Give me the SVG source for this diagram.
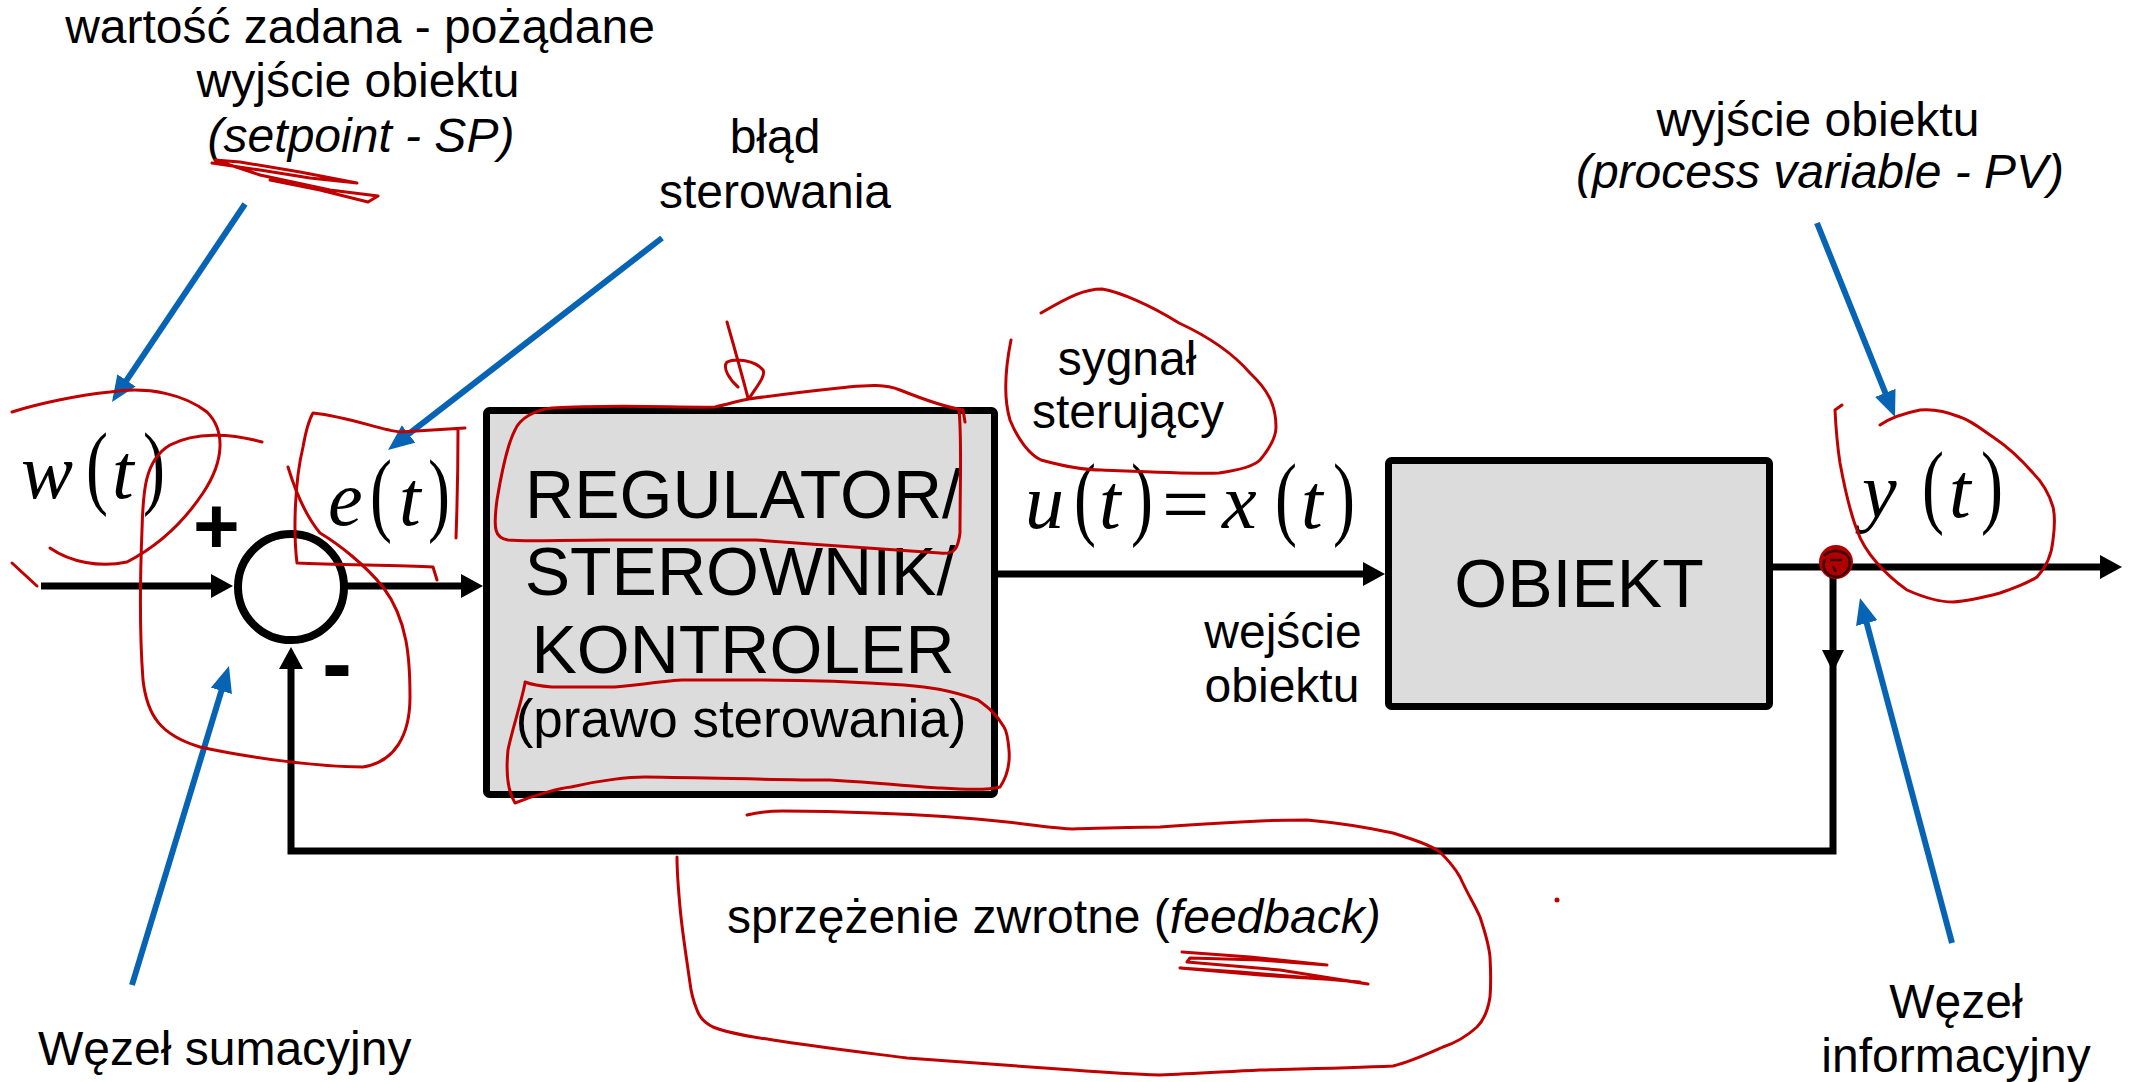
<svg xmlns="http://www.w3.org/2000/svg" width="2130" height="1082" viewBox="0 0 2130 1082">
<defs>
<style>
.t{font-family:"Liberation Sans",Arial,sans-serif;font-size:48px;fill:#000}
.c{text-anchor:middle}
.i{font-style:italic}
.big{font-family:"Liberation Sans",Arial,sans-serif;font-size:68px;fill:#000;text-anchor:middle}
.m{font-family:"Liberation Serif","Times New Roman",serif;font-style:italic;font-size:78px;fill:#000}
.p{font-family:"Liberation Serif","Times New Roman",serif;font-size:66px;fill:#000}
.box{fill:#dcdcdc;stroke:#000;stroke-width:7}
.wire{fill:none;stroke:#000;stroke-width:7}
.blue{fill:none;stroke:#0764b4;stroke-width:6}
.red{fill:none;stroke:#c00000;stroke-width:3;stroke-linejoin:round;stroke-linecap:round}
</style>
<marker id="ah" markerUnits="userSpaceOnUse" markerWidth="24" markerHeight="24" refX="10" refY="12" orient="auto"><path d="M0,0 L22,12 L0,24 z" fill="#000"/></marker>
<marker id="bh" markerUnits="userSpaceOnUse" markerWidth="28" markerHeight="24" refX="12" refY="11" orient="auto"><path d="M0,0 L26,11 L0,22 z" fill="#0764b4"/></marker>
</defs>
<rect width="2130" height="1082" fill="#fff"/>

<g id="connectors">
<line class="wire" x1="41" y1="586" x2="221" y2="586" marker-end="url(#ah)"/>
<line class="wire" x1="344" y1="586" x2="471" y2="586" marker-end="url(#ah)"/>
<line class="wire" x1="998" y1="574" x2="1373" y2="574" marker-end="url(#ah)"/>
<line class="wire" x1="1773" y1="567" x2="2110" y2="567" marker-end="url(#ah)"/>
<polyline class="wire" points="1833,567 1833,851 291,851 291,659" marker-end="url(#ah)"/>
<polygon points="1822,650 1844,650 1833,672" fill="#000"/>
</g>

<g id="sum-node">
<circle cx="291" cy="587" r="53" fill="#fff" stroke="#000" stroke-width="8"/>
<text x="193" y="553" style="font-family:'Liberation Sans',Arial,sans-serif;font-weight:bold;font-size:80px">+</text>
<text x="322" y="694" style="font-family:'Liberation Sans',Arial,sans-serif;font-weight:bold;font-size:90px">-</text>
</g>

<g id="info-node">
<circle cx="1833" cy="567" r="11" fill="#000"/>
</g>

<g id="regulator">
<rect class="box" x="486.5" y="410.5" width="508" height="384" rx="3"/>
<text class="big" x="743" y="518">REGULATOR/</text>
<text class="big" x="740" y="595">STEROWNIK/</text>
<text class="big" x="743" y="673">KONTROLER</text>
<text class="big" x="741" y="737" style="font-size:53px">(prawo sterowania)</text>
</g>

<g id="obiekt">
<rect class="box" x="1388.5" y="460.5" width="381" height="246" rx="3"/>
<text class="big" x="1579" y="607">OBIEKT</text>
</g>

<g id="math">
<text class="m" x="21" y="498">w</text>
<text class="p" transform="translate(86,497) scale(1,1.4)">(</text>
<text class="m" x="112" y="498">t</text>
<text class="p" transform="translate(143,497) scale(1,1.4)">)</text>

<text class="m" x="328" y="525">e</text>
<text class="p" transform="translate(370,524) scale(1,1.4)">(</text>
<text class="m" x="399" y="525">t</text>
<text class="p" transform="translate(428,524) scale(1,1.4)">)</text>

<text class="m" x="1025" y="528">u</text>
<text class="p" transform="translate(1074,528) scale(1,1.4)">(</text>
<text class="m" x="1099" y="528">t</text>
<text class="p" transform="translate(1131,528) scale(1,1.4)">)</text>
<text style="font-family:'Liberation Serif',serif;font-size:84px" x="1162" y="533">=</text>
<text class="m" x="1222" y="528">x</text>
<text class="p" transform="translate(1275,528) scale(1,1.4)">(</text>
<text class="m" x="1301" y="528">t</text>
<text class="p" transform="translate(1333,528) scale(1,1.4)">)</text>

<text class="m" x="1862" y="517">y</text>
<text class="p" transform="translate(1922,516) scale(1,1.4)">(</text>
<text class="m" x="1949" y="517">t</text>
<text class="p" transform="translate(1981,516) scale(1,1.4)">)</text>
</g>

<g id="labels">
<text class="t c" x="360" y="43">wartość zadana - pożądane</text>
<text class="t c" x="358" y="97">wyjście obiektu</text>
<text class="t c i" x="361" y="152">(setpoint - SP)</text>
<text class="t c" x="775" y="153">błąd</text>
<text class="t c" x="775" y="208">sterowania</text>
<text class="t c" x="1127" y="375">sygnał</text>
<text class="t c" x="1128" y="428">sterujący</text>
<text class="t c" x="1283" y="648">wejście</text>
<text class="t c" x="1282" y="702">obiektu</text>
<text class="t c" x="1818" y="136">wyjście obiektu</text>
<text class="t c i" x="1820" y="188">(process variable - PV)</text>
<text class="t" x="727" y="933">sprzężenie zwrotne (<tspan class="i">feedback)</tspan></text>
<text class="t" x="38" y="1065">Węzeł sumacyjny</text>
<text class="t c" x="1956" y="1018">Węzeł</text>
<text class="t c" x="1956" y="1072">informacyjny</text>
</g>

<g id="pointers">
<line class="blue" x1="245" y1="204" x2="119.8" y2="390.4" marker-end="url(#bh)"/>
<line class="blue" x1="662" y1="238" x2="399.1" y2="441.4" marker-end="url(#bh)"/>
<line class="blue" x1="132" y1="985" x2="224.9" y2="679.4" marker-end="url(#bh)"/>
<line class="blue" x1="1817" y1="223" x2="1889.8" y2="404" marker-end="url(#bh)"/>
<line class="blue" x1="1952" y1="943" x2="1863.6" y2="611.5" marker-end="url(#bh)"/>
</g>

<g id="annotations">
<polyline class="red" points="212,163 260,170 310,178 357,183 300,172 240,162 215,160 260,175 330,190 378,196 368,202 320,190 270,180"/>
<polyline class="red" points="1182,952 1250,957 1327,965 1260,960 1190,958 1187,962 1280,970 1368,984 1340,980 1260,975 1180,968 1240,972 1360,982"/>
<path class="red" d="M12,412 C40,403 80,395 110,392 C150,386 185,395 207,412 C225,430 225,460 203,493 C185,520 160,545 127,562 C100,568 70,562 50,548"/>
<path class="red" d="M12,563 L37,586"/>
<path class="red" d="M262,442 C230,433 195,432 170,445 C145,460 143,490 142,530 C140,580 140,640 143,680 C147,715 160,735 200,747 C250,758 320,767 363,767 C395,762 410,735 410,697 C410,660 408,620 383,587 C365,565 340,545 320,533 C305,515 295,490 288,467"/>
<path class="red" d="M437,580 L433,567 C400,565 340,565 297,563 C293,530 295,480 303,447 C306,430 310,418 313,413 C350,417 380,430 400,432 C430,430 450,429 465,428 M458,430 C458,470 457,510 456,538"/>
<path class="red" d="M727,322 C735,350 742,375 748,398 M750,397 C758,385 766,375 763,370 C755,360 735,358 727,362 C722,368 730,380 738,387"/>
<path class="red" d="M959,410 C962,440 960,480 960,533 C958,548 955,555 940,553 C900,550 820,545 756,540 C700,540 640,540 608,540 C560,540 525,542 508,540 C495,538 493,530 497,500 C502,470 507,445 515,430 C520,418 535,410 552,408 C620,404 680,408 715,407 C730,404 740,400 749,399 C790,393 820,390 848,387 C870,385 885,384 900,390 C920,398 945,407 963,410 L965,422"/>
<path class="red" d="M525,683 C522,700 512,730 508,750 C506,770 507,790 515,803 C535,795 560,788 571,787 C600,780 630,777 645,777 C720,778 780,780 830,780 C880,783 920,787 941,788 C970,790 990,790 1000,787 C1008,775 1010,762 1009,750 C1008,738 1006,730 1004,727 C995,712 985,705 978,700 C950,690 930,687 904,685 C860,682 800,680 756,680 C720,680 700,680 682,680 C650,682 630,687 608,687 C580,687 565,687 552,687 C540,686 530,684 525,682"/>
<path class="red" d="M1011,340 C1005,370 1004,400 1010,420 C1018,440 1030,455 1041,460 C1070,468 1090,470 1102,470 C1150,472 1190,474 1219,473 C1240,470 1255,465 1260,460 C1270,448 1276,437 1276,427 C1276,405 1268,390 1250,373 C1230,350 1205,335 1179,323 C1150,305 1120,292 1102,289 C1085,289 1070,296 1041,313"/>
<path class="red" d="M1842,405 L1835,410 C1836,430 1838,450 1840,463 C1845,490 1850,512 1857,530 C1862,545 1870,555 1877,563 C1890,578 1900,585 1907,590 C1925,598 1940,602 1953,602 C1970,601 1985,597 2000,593 C2015,588 2028,583 2037,577 C2048,565 2052,552 2053,540 C2055,525 2055,515 2053,507 C2048,490 2040,480 2033,473 C2020,458 2005,445 1993,437 C1980,428 1970,420 1960,417 C1945,411 1930,409 1920,410 C1905,413 1890,418 1880,425"/>
<path class="red" d="M747,815 C760,812 770,811 783,811 C820,811 850,812 873,813 C930,815 970,818 1007,822 C1040,826 1060,829 1073,829 C1110,828 1140,827 1160,827 C1200,824 1240,822 1260,821 C1280,820 1295,820 1307,820 C1340,823 1370,828 1393,833 C1415,840 1430,845 1440,852 C1448,860 1455,868 1460,877 C1468,895 1475,905 1480,917 C1486,935 1489,945 1490,957 C1491,975 1491,985 1490,997 C1488,1010 1484,1020 1477,1027 C1465,1038 1455,1043 1443,1047 C1425,1055 1410,1062 1393,1066 C1350,1068 1300,1069 1260,1070 C1220,1072 1190,1074 1160,1075 C1130,1074 1100,1072 1073,1070 C1020,1066 960,1062 907,1058 C860,1052 810,1046 773,1040 C745,1036 725,1032 713,1027 C703,1022 699,1016 697,1010 C693,1000 691,992 690,983 C686,955 682,930 680,907 C678,885 677,870 677,857"/>
<circle cx="1557" cy="900" r="2.5" fill="#c00000"/>
<circle cx="1836" cy="562" r="17" fill="#b00000"/>
<path d="M1824,556 C1830,548 1845,550 1849,558 C1852,568 1845,576 1836,577 C1826,576 1821,568 1825,559 M1830,560 L1842,560 M1833,566 L1836,572" fill="none" stroke="#3a0000" stroke-width="2.5"/>
</g>
</svg>
